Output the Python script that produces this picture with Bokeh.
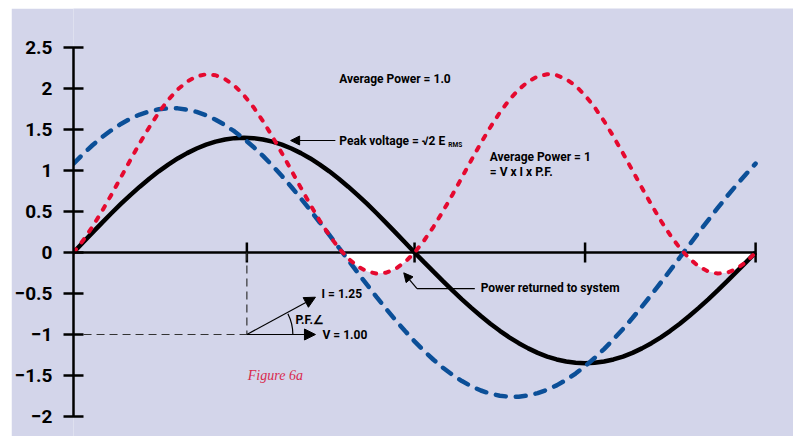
import math
from bokeh.plotting import figure
from bokeh.models import FixedTicker, Label, Arrow, NormalHead
from bokeh.embed import file_html
from bokeh.resources import INLINE

# ---- data ----
angle_deg = [0, 5, 10, 15, 20, 25, 30, 35, 40, 45, 50, 55, 60, 65, 70, 75, 80, 85, 90,
             95, 100, 105, 110, 115, 120, 125, 130, 135, 140, 145, 150, 155, 160, 165, 170, 175, 180,
             185, 190, 195, 200, 205, 210, 215, 220, 225, 230, 235, 240, 245, 250, 255, 260, 265, 270,
             275, 280, 285, 290, 295, 300, 305, 310, 315, 320, 325, 330, 335, 340, 345, 350, 355, 360]

voltage = [0, 0.122, 0.243, 0.362, 0.479, 0.592, 0.700, 0.803, 0.900, 0.990, 1.072, 1.147, 1.212, 1.269, 1.316, 1.352, 1.379, 1.395, 1.400,
           1.395, 1.379, 1.352, 1.316, 1.269, 1.212, 1.147, 1.072, 0.990, 0.900, 0.803, 0.700, 0.592, 0.479, 0.362, 0.243, 0.122, 0,
           -0.118, -0.234, -0.349, -0.462, -0.571, -0.675, -0.774, -0.868, -0.955, -1.034, -1.106, -1.169, -1.224, -1.269, -1.304, -1.329, -1.345, -1.350,
           -1.345, -1.329, -1.304, -1.269, -1.224, -1.169, -1.106, -1.034, -0.955, -0.868, -0.774, -0.675, -0.571, -0.462, -0.349, -0.234, -0.118, 0]

current = [1.084, 1.200, 1.308, 1.406, 1.492, 1.568, 1.632, 1.683, 1.721, 1.747, 1.759, 1.758, 1.743, 1.715, 1.674, 1.620, 1.554, 1.476, 1.387,
           1.287, 1.178, 1.059, 0.933, 0.799, 0.659, 0.515, 0.366, 0.215, 0.061, -0.092, -0.245, -0.396, -0.544, -0.688, -0.826, -0.958, -1.084,
           -1.200, -1.308, -1.406, -1.492, -1.568, -1.632, -1.683, -1.721, -1.747, -1.759, -1.758, -1.743, -1.715, -1.674, -1.620, -1.554, -1.476, -1.387,
           -1.287, -1.178, -1.059, -0.933, -0.799, -0.659, -0.515, -0.366, -0.215, -0.061, 0.092, 0.245, 0.396, 0.544, 0.688, 0.826, 0.958, 1.084]

power = [0, 0.145, 0.314, 0.503, 0.705, 0.916, 1.128, 1.335, 1.528, 1.707, 1.862, 1.989, 2.085, 2.148, 2.174, 2.162, 2.115, 2.033, 1.917,
         1.772, 1.603, 1.413, 1.211, 1.001, 0.789, 0.583, 0.387, 0.210, 0.054, -0.073, -0.170, -0.231, -0.257, -0.246, -0.198, -0.116, 0,
         0.145, 0.314, 0.503, 0.705, 0.916, 1.128, 1.335, 1.528, 1.707, 1.862, 1.989, 2.085, 2.148, 2.174, 2.162, 2.115, 2.033, 1.917,
         1.772, 1.603, 1.413, 1.211, 1.001, 0.789, 0.583, 0.387, 0.210, 0.054, -0.073, -0.170, -0.231, -0.257, -0.246, -0.198, -0.116, 0]

y_ticks = [-2, -1.5, -1, -0.5, 0, 0.5, 1, 1.5, 2, 2.5]
y_tick_labels = ["\u22122", "\u22121.5", "\u22121", "\u22120.5", "0", "0.5", "1", "1.5", "2", "2.5"]
x_ticks = [91.5, 180, 270, 360]

# phasor diagram values
v_phasor = (127.7, -1.0)
i_phasor = (127.7, -0.545)
phasor_origin = (91.5, -1.0)

LAV = "#d3d5ea"
RED = "#e5092f"
BLUE = "#0b4f98"
FONT = "Roboto"

p = figure(width=782, height=428, x_range=(0, 380.0), y_range=(-2.244, 2.976),
           output_backend="svg", toolbar_location=None, x_axis_location=None,
           min_border_left=59, min_border_right=0, min_border_top=0, min_border_bottom=0,
           background_fill_color=LAV, border_fill_color=LAV, outline_line_color=None)
p.margin = (8, 0, 0, 11)
p.grid.visible = False

ax = p.yaxis[0]
ax.ticker = FixedTicker(ticks=y_ticks, minor_ticks=[])
ax.major_label_overrides = dict(zip(y_ticks, y_tick_labels))
ax.bounds = (y_ticks[0], y_ticks[-1])
ax.axis_line_width = 2.5
ax.axis_line_color = "black"
ax.major_tick_line_width = 2.5
ax.major_tick_line_color = "black"
ax.major_tick_in = 10
ax.major_tick_out = 10
ax.minor_tick_line_color = None
ax.major_label_standoff = 11
ax.major_label_text_font = FONT
ax.major_label_text_font_style = "bold"
ax.major_label_text_font_size = "19px"
ax.major_label_text_color = "black"

# white fill where power is negative
neg = [min(v, 0) for v in power]
p.varea(x=angle_deg, y1=neg, y2=[0] * len(angle_deg), fill_color="white")

# x axis line at zero with crossing ticks
p.line([angle_deg[0], angle_deg[-1]], [0, 0], line_color="black", line_width=2.5)
p.scatter(x=x_ticks, y=[0] * len(x_ticks), marker="dash", size=20, angle=math.pi / 2,
          line_color="black", line_width=2.5)

# curves
p.line(angle_deg, voltage, line_color="black", line_width=4.5)
p.line(angle_deg, current, line_color=BLUE, line_width=4.5, line_dash="10 10", line_cap="round")
p.line(angle_deg, power, line_color=RED, line_width=4, line_dash="4 9", line_cap="round")

# dashed guides for phasor diagram
p.line([5.3, phasor_origin[0]], [phasor_origin[1], phasor_origin[1]], line_color="#333333",
       line_width=1.2, line_dash="8 5")
p.line([phasor_origin[0], phasor_origin[0]], [0, phasor_origin[1]], line_color="#333333",
       line_width=1.2, line_dash="8 5")

def arrow(x0, y0, x1, y1, size=10):
    p.add_layout(Arrow(end=NormalHead(size=size, fill_color="black", line_color="black"),
                       x_start=x0, y_start=y0, x_end=x1, y_end=y1,
                       line_color="black", line_width=1.2))

arrow(phasor_origin[0], phasor_origin[1], v_phasor[0], v_phasor[1], 11)
arrow(phasor_origin[0], phasor_origin[1], i_phasor[0], i_phasor[1], 11)
p.arc(x=[phasor_origin[0]], y=[phasor_origin[1]], radius=46, radius_units="screen",
      start_angle=0, end_angle=0.47, line_color="black", line_width=1.2)

# callouts
arrow(138.2, 1.366, 114.6, 1.366, 9)
p.line([211.8, 181.3], [-0.44, -0.44], line_color="black", line_width=1.2)
arrow(181.3, -0.44, 174.3, -0.248, 9)

def label(x, y, text, size="12px", **kw):
    opts = dict(text_font=FONT, text_font_style="bold", text_font_size=size,
                text_baseline="middle", text_align="left", text_color="black")
    opts.update(kw)
    p.add_layout(Label(x=x, y=y, text=text, **opts))

label(140.3, 2.12, "Average Power = 1.0")
label(140.3, 1.366, "Peak voltage = \u221a2 E")
label(197.8, 1.31, "RMS", size="6.5px")
label(219.7, 1.159, "Average Power = 1")
label(219.7, 0.988, "= V x I x P.F.")
label(214.9, -0.427, "Power returned to system")
label(131.4, -1.0, "V = 1.00")
label(130.9, -0.512, "I = 1.25")
label(117.2, -0.829, "P.F.\u2220")
label(92.0, -1.5, "Figure 6a", size="14px", text_font="Liberation Serif",
      text_font_style="italic", text_color="#d92a4e")

open("out.html", "w").write(file_html(p, INLINE))
